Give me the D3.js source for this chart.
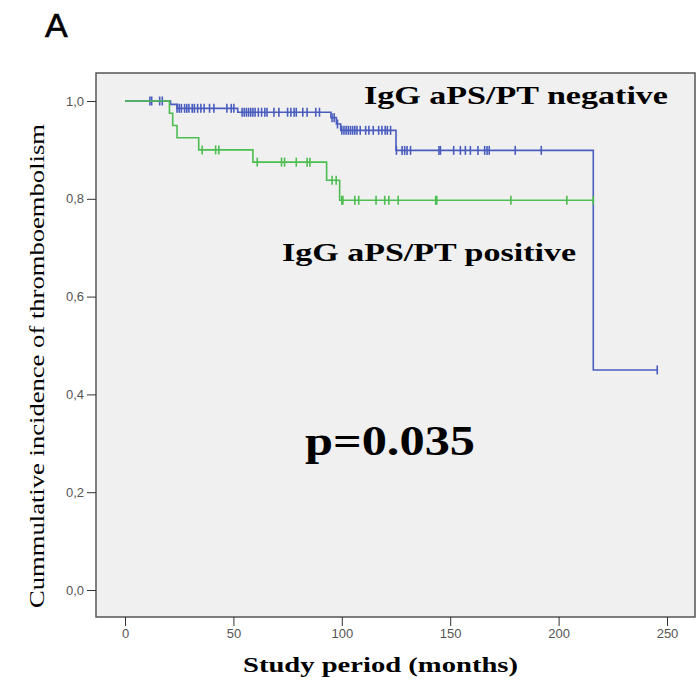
<!doctype html>
<html>
<head>
<meta charset="utf-8">
<title>Cumulative incidence</title>
<style>
	body { margin: 0; background: #fff; }
	.tick text { font-family: "Liberation Sans", Arial, sans-serif; font-size: 13px; fill: #555; }
	.tick line { stroke: #333; }
	.serif { font-family: "Liberation Serif", "Times New Roman", serif; fill: #000; }
</style>
</head>
<body>
<svg width="697" height="687"></svg>
<script src="https://d3js.org/d3.v7.min.js"></script>
<script>

	// step curves: event times (months) and cumulative survival after each step
	const negTimes  = [ 0, 21, 24, 52, 95, 97.5, 99.5, 125, 216 ];
	const negValues = [ 1, 0.993, 0.985, 0.977, 0.966, 0.953, 0.94, 0.899, 0.45 ];
	const negEnd = 245.5;
	const negCensored = [ 11.5, 12.3, 16, 17.2, 24, 25, 26, 27.5, 28.5, 29.5, 31, 32, 33.5, 35, 36.5, 39, 41, 47, 49, 50.2,
		54, 55, 56, 57, 58, 59, 60, 61.5, 63, 64.5, 65.5, 68.7, 71, 75, 76.5, 78, 79, 82, 84, 88, 89.7,
		95.5, 96.5, 98, 100, 101, 102, 103, 104, 105, 106, 107, 108.5, 111, 112.5, 114.5, 117, 118.5, 120, 121, 122.5,
		125.2, 127.8, 129, 130.1, 131.7, 144.8, 145.5, 151.6, 154.7, 157, 159.3, 162.8, 165.9, 167, 168, 180, 192, 245.5 ];

	const posTimes  = [ 0, 20.5, 22, 24, 34, 59, 93, 99 ];
	const posValues = [ 1, 0.975, 0.95, 0.925, 0.90, 0.875, 0.838, 0.797 ];
	const posEnd = 216;
	const posCensored = [ 35.6, 41.8, 43.3, 61, 72.2, 73.6, 79, 84, 85.3, 95.5, 97.4, 100, 100.5, 106, 107.8,
		115.8, 119.8, 121.7, 126, 143.3, 143.8, 178, 203.8, 216 ];

	const xTicks = [ 0, 50, 100, 150, 200, 250 ];
	const yTicks = [ 0, 0.2, 0.4, 0.6, 0.8, 1.0 ];

	const svg = d3.select( "svg" );

	const box = { left: 96, right: 695, top: 73, bottom: 617 };

	const x = d3.scaleLinear().domain( [ 0, 250 ] ).range( [ 125, 667 ] );
	const y = d3.scaleLinear().domain( [ 0, 1 ] ).range( [ 590, 101 ] );

	svg.append( "rect" )
		.attr( "x", box.left ).attr( "y", box.top )
		.attr( "width", box.right - box.left ).attr( "height", box.bottom - box.top )
		.attr( "fill", "#f0f0f0" )
		.attr( "stroke", "#555" )
		.attr( "stroke-width", 1.5 );

	// axes
	svg.append( "g" )
		.attr( "transform", "translate(0," + box.bottom + ")" )
		.call( d3.axisBottom( x ).tickValues( xTicks ).tickSize( 9 ).tickPadding( 3 ) )
		.call( g => g.select( ".domain" ).remove() );

	svg.append( "g" )
		.attr( "transform", "translate(" + box.left + ",0)" )
		.call( d3.axisLeft( y ).tickValues( yTicks ).tickSize( 9 ).tickPadding( 3 )
			.tickFormat( d => d3.format( ".1f" )( d ).replace( ".", "," ) ) )
		.call( g => g.select( ".domain" ).remove() );

	function stepPoints( times, values, end ) {
		const pts = [];
		times.forEach( ( t, i ) => {
			if ( i > 0 ) pts.push( [ t, values[ i - 1 ] ] );
			pts.push( [ t, values[ i ] ] );
		});
		pts.push( [ end, values[ values.length - 1 ] ] );
		return pts;
	}

	function valueAt( times, values, t ) {
		let v = values[ 0 ];
		times.forEach( ( s, i ) => { if ( s <= t ) v = values[ i ]; } );
		return v;
	}

	const line = d3.line().x( d => x( d[ 0 ] ) ).y( d => y( d[ 1 ] ) );

	function drawCurve( times, values, end, censored, color ) {
		const g = svg.append( "g" );
		g.append( "path" )
			.datum( stepPoints( times, values, end ) )
			.attr( "d", line )
			.attr( "fill", "none" )
			.attr( "stroke", color )
			.attr( "stroke-width", 1.6 );
		g.selectAll( "line" )
			.data( censored )
			.enter().append( "line" )
				.attr( "x1", d => x( d ) ).attr( "x2", d => x( d ) )
				.attr( "y1", d => y( valueAt( times, values, d ) ) - 4.5 )
				.attr( "y2", d => y( valueAt( times, values, d ) ) + 4.5 )
				.attr( "stroke", color )
				.attr( "stroke-width", 1.6 );
	}

	drawCurve( negTimes, negValues, negEnd, negCensored, "#4a5dbf" );
	drawCurve( posTimes, posValues, posEnd, posCensored, "#4cbd50" );

	// labels
	svg.append( "text" ).attr( "class", "serif" )
		.attr( "x", 364 ).attr( "y", 104 )
		.attr( "font-size", 25 ).attr( "font-weight", "bold" )
		.attr( "textLength", 304 ).attr( "lengthAdjust", "spacingAndGlyphs" )
		.text( "IgG aPS/PT negative" );

	svg.append( "text" ).attr( "class", "serif" )
		.attr( "x", 282 ).attr( "y", 261 )
		.attr( "font-size", 25 ).attr( "font-weight", "bold" )
		.attr( "textLength", 294 ).attr( "lengthAdjust", "spacingAndGlyphs" )
		.text( "IgG aPS/PT positive" );

	svg.append( "text" ).attr( "class", "serif" )
		.attr( "x", 305 ).attr( "y", 455 )
		.attr( "font-size", 42 ).attr( "font-weight", "bold" )
		.attr( "textLength", 170 ).attr( "lengthAdjust", "spacingAndGlyphs" )
		.text( "p=0.035" );

	svg.append( "text" ).attr( "class", "serif" )
		.attr( "x", 243 ).attr( "y", 672 )
		.attr( "font-size", 21 ).attr( "font-weight", "bold" )
		.attr( "textLength", 275 ).attr( "lengthAdjust", "spacingAndGlyphs" )
		.text( "Study period (months)" );

	svg.append( "text" ).attr( "class", "serif" )
		.attr( "transform", "translate(44,608) rotate(-90)" )
		.attr( "font-size", 21 )
		.attr( "textLength", 484 ).attr( "lengthAdjust", "spacingAndGlyphs" )
		.text( "Cummulative incidence of thromboembolism" );

	svg.append( "text" )
		.attr( "x", 45 ).attr( "y", 37 )
		.attr( "font-family", "Liberation Sans, Arial, sans-serif" )
		.attr( "font-size", 34 )
		.attr( "stroke", "#000" ).attr( "stroke-width", 0.6 )
		.text( "A" );

</script>
</body>
</html>
